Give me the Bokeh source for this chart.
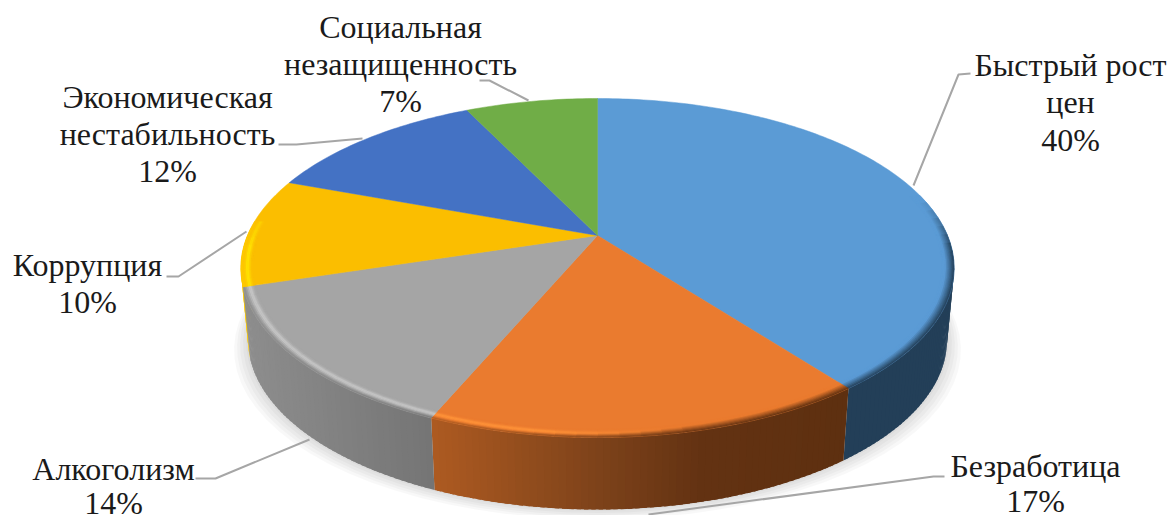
import math
from bokeh.core.properties import value
from bokeh.embed import file_html
from bokeh.models import ColumnDataSource
from bokeh.plotting import figure
from bokeh.resources import INLINE

# ---- data
categories = ["Быстрый рост цен", "Безработица", "Алкоголизм", "Коррупция",
              "Экономическая нестабильность", "Социальная незащищенность"]
shares = [39.6, 16.8, 13.8, 10.4, 12.2, 7.2]
colors = ["#5B9BD5", "#EA7B2F", "#A5A5A5", "#FBBE00", "#4472C4", "#70AD47"]

# label rows: text is built from the data, the rest is placement
label_lines = [["Быстрый рост", "цен"], ["Безработица"], ["Алкоголизм"], ["Коррупция"],
               ["Экономическая", "нестабильность"], ["Социальная", "незащищенность"]]
label_x = [1070, 1035, 113, 87, 167, 400]
label_base = [64, 465, 468, 264, 96, 26]
label_step = [37.5, 35, 34, 37, 37, 37]
leaders = [
    ([970, 958, 913], [73, 74, 185]),
    ([944, 933, 648], [476, 476, 514]),
    ([195, 215, 309], [478, 478, 439]),
    ([166, 178, 246], [276, 276, 231]),
    ([278, 296, 362], [144, 144, 138]),
    ([479, 489, 528], [80, 80, 100]),
]

# side colours by screen x, per slice
side_stops = [
    [(600, "#233F58"), (960, "#233F58")],
    [(433, "#AC5A21"), (597, "#7D421A"), (700, "#633212"), (840, "#5E3010")],
    [(245, "#8D8D8D"), (433, "#747474")],
    [(240, "#FFCC00"), (260, "#FFCC00")],
    [(240, "#3A5F9F"), (300, "#3A5F9F")],
    [(400, "#5A8A39"), (600, "#5A8A39")],
]

# ---- projection of the tilted disc
CX, CY = 597.0, 235.0
A, B, K = 163.3, 350.0, 0.1917
DEPTH, SHRINK = 72.0, 0.98


def top(r, deg):
    th = math.radians(deg)
    u, v = r * math.sin(th), r * math.cos(th)
    s = 1.0 / (1.0 + K * v)
    return CX + B * u * s, CY - A * v * s


def bottom(deg):
    x, y = top(1.0, deg)
    return CX + (x - CX) * SHRINK, y + DEPTH


def rgb(h):
    return tuple(int(h[i:i + 2], 16) for i in (1, 3, 5))


def mix(a, b, t):
    t = max(0.0, min(1.0, t))
    return tuple(a[i] + (b[i] - a[i]) * t for i in range(3))


def tohex(c):
    return "#%02x%02x%02x" % tuple(int(round(max(0, min(255, q)))) for q in c)


def side_color(i, x):
    st = side_stops[i]
    if x <= st[0][0]:
        return rgb(st[0][1])
    for (x0, c0), (x1, c1) in zip(st, st[1:]):
        if x <= x1:
            return mix(rgb(c0), rgb(c1), (x - x0) / (x1 - x0))
    return rgb(st[-1][1])


def arange(a, b, step):
    n = max(1, int(math.ceil((b - a) / step)))
    return [a + (b - a) * j / n for j in range(n + 1)]


edges = [0.0]
for s in shares:
    edges.append(edges[-1] + s * 3.6)

p = figure(width=1170, height=515, x_range=(0, 1170), y_range=(515, 0),
           output_backend="svg", toolbar_location=None, min_border=0,
           outline_line_color=None, background_fill_color="white",
           border_fill_color="white")
p.axis.visible = False
p.grid.visible = False

# soft shadow under the pie
outline = arange(60, 300, 4)
for grow in (14, 11, 8, 5, 2):
    xs, ys = [], []
    for d in outline:
        x, y = bottom(d)
        xs.append(CX + (x - CX) * (1 + grow / 350))
        ys.append(y + grow * 0.7)
    xs += [CX + 300, CX - 300]
    ys += [CY, CY]
    p.patch(xs, ys, fill_color="#000000", fill_alpha=0.028, line_color=None)

# side wall, strip by strip (strips overlap their neighbour to hide seams)
sx, sy, sc = [], [], []
for i in [4, 3, 0, 1, 2]:
    a0, a1 = max(edges[i], 88), min(edges[i + 1], 272)
    if a1 <= a0:
        continue
    ang = arange(a0, a1, 1.0)
    for d0, d1 in zip(ang, ang[1:]):
        d2 = min(d1 + 0.6, a1)
        t0, t1, b0, b1 = top(1, d0), top(1, d2), bottom(d0), bottom(d2)
        sx.append([t0[0], t1[0], b1[0], b0[0]])
        sy.append([t0[1], t1[1], b1[1], b0[1]])
        sc.append(tohex(side_color(i, (t0[0] + t1[0]) / 2)))
p.patches(xs="xs", ys="ys", fill_color="c", line_color=None,
          source=ColumnDataSource(dict(xs=sx, ys=sy, c=sc)))

# top face
for i, col in enumerate(colors):
    pts = [top(1, d) for d in arange(edges[i], edges[i + 1], 1.0)]
    p.patch([CX] + [q[0] for q in pts], [CY] + [q[1] for q in pts],
            fill_color=col, line_color=col, line_width=0.5)

# bevel along the front rim
bx, by, bc = [], [], []
RINGS = 8
R0 = 0.966
for i, col in enumerate(colors):
    S = rgb(col)
    H = tuple(min(255, q * 1.2) for q in S)
    a0, a1 = max(edges[i], 75), min(edges[i + 1], 275)
    if a1 <= a0:
        continue
    ang = arange(a0, a1, 3.0)
    for d0, d1 in zip(ang, ang[1:]):
        dm = (d0 + d1) / 2
        vm = math.cos(math.radians(dm))
        w = max(0.0, min(1.0, (0.22 - vm) / 0.3))
        xm = top(1, dm)[0]
        h = max(0.0, min(1.0, (690 - xm) / 160))
        D = side_color(i, xm)
        for k in range(RINGS):
            r0 = R0 + (1 - R0) * k / RINGS
            r1 = R0 + (1 - R0) * (k + 1) / RINGS
            t = (k + 0.5) / RINGS
            start = 0.3 + 0.42 * h
            dark = max(0.0, min(1.0, (t - start) / (1 - start))) * w
            light = h * w * math.exp(-((t - 0.5) / 0.2) ** 2)
            c = mix(mix(S, D, dark), H, light)
            q = [top(r0, d0), top(r0, d1), top(r1, d1), top(r1, d0)]
            bx.append([e[0] for e in q])
            by.append([e[1] for e in q])
            bc.append(tohex(c))
p.patches(xs="xs", ys="ys", fill_color="c", line_color="c", line_width=0.5,
          source=ColumnDataSource(dict(xs=bx, ys=by, c=bc)))

# leader lines
for lx, ly in leaders:
    p.line(lx, ly, line_color="#A6A6A6", line_width=2)

# labels
tx, ty, tt = [], [], []
for i, lines in enumerate(label_lines):
    rows = lines + ["%d%%" % round(shares[i])]
    for j, row in enumerate(rows):
        tx.append(label_x[i])
        ty.append(label_base[i] + j * label_step[i])
        tt.append(row)
p.text(x="x", y="y", text="t", source=ColumnDataSource(dict(x=tx, y=ty, t=tt)),
       text_font=value("Liberation Serif"), text_font_size="32px",
       text_color="#1a1a1a", text_align="center", text_baseline="alphabetic")

open("out.html", "w").write(file_html(p, INLINE))
